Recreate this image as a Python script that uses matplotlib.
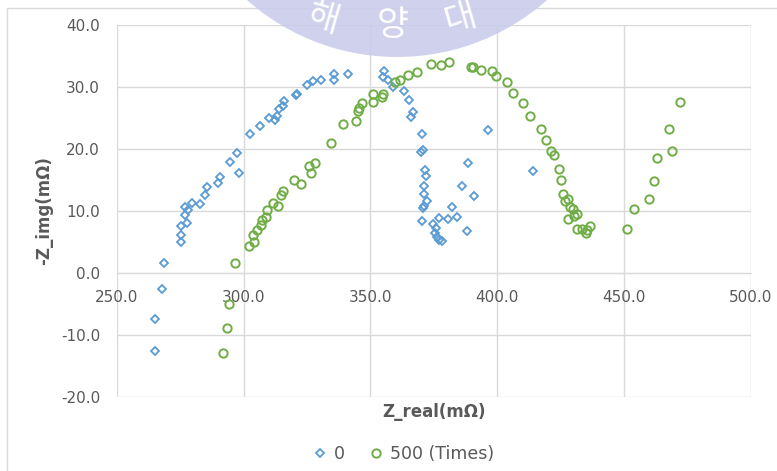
import matplotlib
matplotlib.use('Agg')
import matplotlib.pyplot as plt
from matplotlib.patches import Circle, Rectangle
from matplotlib.transforms import IdentityTransform

# cycle 0
z_real_0 = [265.0, 265.0, 267.8, 268.5, 275.5, 275.5, 275.3, 277.6, 277.0, 278.2,
            277.0, 279.6, 282.8, 284.8, 285.5, 290.1, 290.7, 294.5, 297.3, 298.4,
            302.6, 306.5, 310.2, 312.6, 313.2, 314.0, 315.6, 316.0, 320.7, 321.0,
            324.9, 327.5, 330.4, 335.5, 335.8, 341.3, 355.2, 354.9, 356.8, 359.0,
            363.2, 365.4, 367.0, 366.0, 370.3, 370.6, 370.1, 371.6, 372.1, 371.0,
            371.2, 372.2, 371.2, 370.6, 370.3, 374.8, 375.9, 375.5, 376.4, 377.2,
            378.2, 380.8, 377.2, 382.1, 384.1, 388.0, 386.2, 390.9, 388.6, 396.3,
            414.0]
z_img_0 = [-12.6, -7.4, -2.6, 1.7, 5.0, 6.1, 7.6, 8.1, 9.4, 10.2,
           10.7, 11.3, 11.1, 12.6, 13.9, 14.5, 15.5, 18.0, 19.4, 16.1,
           22.5, 23.8, 25.0, 24.7, 25.4, 26.4, 26.9, 27.8, 28.7, 28.9,
           30.4, 31.0, 31.2, 31.1, 32.1, 32.1, 32.6, 31.6, 31.1, 30.0,
           29.4, 27.9, 26.0, 25.2, 22.5, 19.9, 19.6, 16.6, 15.6, 14.1,
           12.7, 11.7, 10.8, 10.5, 8.4, 7.9, 7.3, 6.4, 5.9, 5.4,
           5.2, 8.8, 8.9, 10.7, 9.1, 6.8, 14.0, 12.5, 17.8, 23.0,
           16.5]

# cycle 500
z_real_500 = [292.0, 293.4, 294.2, 296.6, 302.3, 304.1, 303.6, 305.2, 306.8, 307.2,
              308.9, 309.4, 311.7, 313.7, 314.7, 315.7, 320.0, 322.7, 326.0, 326.5,
              328.3, 334.5, 339.1, 344.5, 345.3, 345.7, 346.9, 350.9, 351.2, 354.5,
              354.9, 359.7, 361.7, 365.0, 368.6, 373.8, 377.7, 381.2, 389.6, 390.6,
              393.5, 397.9, 399.4, 403.8, 406.1, 410.3, 413.0, 417.2, 419.2, 421.1,
              422.4, 424.4, 425.1, 425.9, 426.8, 428.1, 428.7, 429.8, 431.4, 430.3,
              428.1, 431.6, 433.4, 435.1, 435.6, 436.6, 451.1, 454.1, 460.0, 462.0,
              462.9, 469.1, 467.9, 472.1]
z_img_500 = [-12.9, -8.8, -4.9, 1.6, 4.4, 5.1, 6.1, 7.0, 7.7, 8.5,
             9.1, 10.2, 11.3, 10.8, 12.6, 13.3, 15.0, 14.4, 17.3, 16.1,
             17.8, 21.0, 24.0, 24.6, 26.1, 26.6, 27.4, 27.6, 28.9, 28.4,
             28.9, 30.8, 31.2, 32.0, 32.5, 33.7, 33.5, 34.0, 33.3, 33.3,
             32.7, 32.6, 31.8, 30.8, 29.0, 27.5, 25.3, 23.2, 21.5, 19.7,
             19.0, 16.8, 15.0, 12.7, 11.7, 12.0, 10.6, 10.3, 9.5, 9.2,
             8.8, 7.1, 7.05, 6.4, 6.9, 7.6, 7.1, 10.4, 11.9, 14.8,
             18.5, 19.7, 23.2, 27.6]

x_ticks = [250, 300, 350, 400, 450, 500]
y_ticks = [-20, -10, 0, 10, 20, 30, 40]

text_gray = '#595959'
grid_gray = '#d9d9d9'

fig = plt.figure(figsize=(7.77, 4.71), dpi=100)
ax = fig.add_axes([0.1502, 0.1565, 0.8160, 0.7904])

ax.plot(z_real_0, z_img_0, linestyle='none', marker='D', markersize=4.4,
        markerfacecolor='none', markeredgecolor='#5b9bd5', markeredgewidth=1.3,
        label='0', zorder=3)
ax.plot(z_real_500, z_img_500, linestyle='none', marker='o', markersize=6,
        markerfacecolor='none', markeredgecolor='#70ad47', markeredgewidth=1.4,
        label='500 (Times)', zorder=3)

ax.set_xlim(250, 500)
ax.set_ylim(-20, 40)
ax.set_xticks(x_ticks)
ax.set_yticks(y_ticks)
ax.set_xticklabels([f'{v:.1f}' for v in x_ticks])
ax.set_yticklabels([f'{v:.1f}' for v in y_ticks])
ax.grid(True, color=grid_gray, linewidth=1.0)
ax.set_axisbelow(True)
for side in ['top', 'right', 'left']:
    ax.spines[side].set_visible(False)
# horizontal axis crosses at zero, labels hang under it
ax.spines['bottom'].set_position(('data', 0))
ax.spines['bottom'].set_color(grid_gray)
ax.tick_params(axis='both', length=0, labelsize=11, labelcolor=text_gray)
ax.tick_params(axis='x', pad=12)
ax.tick_params(axis='y', pad=12)

fig.text(434 / 777, 1 - 412 / 471, 'Z_real(mΩ)', ha='center', va='center',
         fontsize=12, fontweight='bold', color=text_gray)
fig.text(44 / 777, 1 - 211 / 471, '-Z_img(mΩ)', ha='center', va='center',
         rotation=90, fontsize=12, fontweight='bold', color=text_gray)

fig.legend(loc='center', bbox_to_anchor=(403 / 777, 1 - 454 / 471), ncol=2,
           frameon=False, fontsize=12.5, labelcolor=text_gray, handletextpad=0.3,
           columnspacing=1.3, handlelength=1.0)

# chart frame
fig.add_artist(Rectangle((7, -10), 800, 471 - 8 + 10, transform=IdentityTransform(),
                         fill=False, edgecolor='#d9d9d9', linewidth=1.0))

# watermark seal
fig.add_artist(Circle((397, 471 + 169), 226, transform=IdentityTransform(),
                      facecolor='#cbcdeb', edgecolor='none', alpha=0.9, zorder=10))
for ch, px, py, rot in [('해', 323, 19, -16), ('양', 393, 25, 0), ('대', 460, 19, 16)]:
    fig.text(px / 777, 1 - py / 471, ch, ha='center', va='center', rotation=rot,
             fontsize=25, color='white', family=['Noto Sans CJK KR', 'DejaVu Sans'],
             zorder=11)

fig.savefig('out.png', dpi=100)
